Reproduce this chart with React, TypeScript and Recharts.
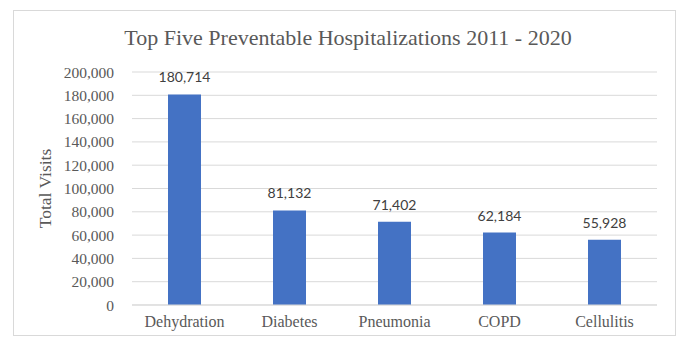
import { BarChart, Bar, XAxis, YAxis, CartesianGrid, LabelList } from "recharts";

const conditions = ["Dehydration", "Diabetes", "Pneumonia", "COPD", "Cellulitis"];
const visits = [180714, 81132, 71402, 62184, 55928];
const yTicks = [0, 20000, 40000, 60000, 80000, 100000, 120000, 140000, 160000, 180000, 200000];

const data = conditions.map((name, i) => ({ name, visits: visits[i] }));

const serif = '"Liberation Serif", "Times New Roman", serif';
const fmt = (v: number) => v.toLocaleString("en-US");

export default function App() {
  return (
    <div
      style={{
        position: "fixed",
        left: 0,
        top: 0,
        width: 685,
        height: 341,
        background: "#fff",
        overflow: "hidden",
      }}
    >
      <div
        style={{
          position: "absolute",
          left: 13,
          top: 10,
          width: 663,
          height: 326,
          border: "1px solid #d9d9d9",
          boxSizing: "border-box",
        }}
      />
      <div
        style={{
          position: "absolute",
          left: 0,
          width: 696,
          top: 25,
          textAlign: "center",
          fontFamily: serif,
          fontSize: 22,
          color: "#595959",
        }}
      >
        Top Five Preventable Hospitalizations 2011 - 2020
      </div>
      <div style={{ position: "absolute", left: 0, top: 0 }}>
        <BarChart
          width={685}
          height={341}
          data={data}
          margin={{ top: 72, right: 28, bottom: 2, left: 62 }}
          barSize={33}
        >
          <CartesianGrid vertical={false} stroke="#d9d9d9" />
          <XAxis
            dataKey="name"
            axisLine={{ stroke: "#d9d9d9" }}
            tickLine={false}
            tickSize={0}
            tickMargin={11}
            height={34}
            tick={{ fill: "#595959", fontSize: 16, fontFamily: serif }}
          />
          <YAxis
            width={70}
            domain={[0, 200000]}
            ticks={yTicks}
            interval={0}
            tickFormatter={fmt}
            axisLine={false}
            tickLine={false}
            tickSize={0}
            tickMargin={18}
            tick={{ fill: "#595959", fontSize: 15.5, fontFamily: serif }}
            label={{
              value: "Total Visits",
              angle: -90,
              position: "left",
              offset: 17,
              style: { fill: "#595959", fontSize: 17.5, fontFamily: serif, textAnchor: "middle" },
            }}
          />
          <Bar dataKey="visits" fill="#4472C4" isAnimationActive={false}>
            <LabelList
              dataKey="visits"
              position="top"
              offset={12}
              formatter={(v: any) => fmt(Number(v))}
              style={{ fill: "#404040", fontSize: 14, fontFamily: "Lato, sans-serif" }}
            />
          </Bar>
        </BarChart>
      </div>
    </div>
  );
}
